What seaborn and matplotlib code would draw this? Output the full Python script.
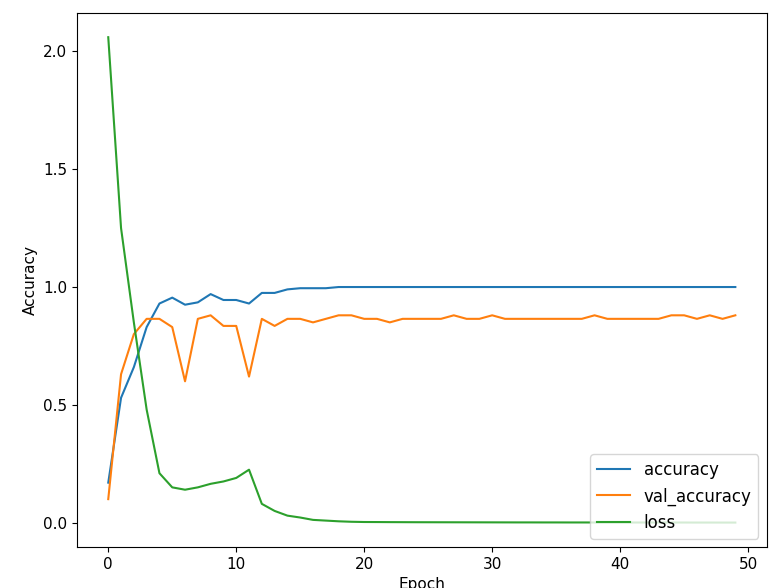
import matplotlib
matplotlib.use("Agg")
import matplotlib.pyplot as plt
import seaborn as sns
import pandas as pd
import numpy as np

accuracy = [0.17,0.53,0.66,0.83,0.93,0.955,0.925,0.935,0.97,0.945,0.945,0.93,0.975,0.975,0.99,0.995,0.995,0.995] + [1.0]*32
val_accuracy = [0.10,0.63,0.80,0.865,0.865,0.83,0.60,0.865,0.88,0.835,0.835,0.62,0.865,0.835,0.865,0.865,0.85,0.865,0.88,0.88,
                0.865,0.865,0.85,0.865,0.865,0.865,0.865,0.88,0.865,0.865,0.88,0.865,0.865,0.865,0.865,0.865,0.865,0.865,0.88,0.865,
                0.865,0.865,0.865,0.865,0.88,0.88,0.865,0.88,0.865,0.88]
loss = [2.06,1.25,0.85,0.48,0.21,0.15,0.14,0.15,0.165,0.175,0.19,0.225,0.08,0.05,0.03,0.022,0.012,0.009,0.006,0.004,
        0.003,0.0028,0.0025,0.0023,0.0021,0.002,0.0019,0.0018,0.0017,0.0016,0.0015,0.0014,0.0013,0.0013,0.0012,0.0012,0.0011,0.0011,0.001,0.001,
        0.001,0.0009,0.0009,0.0008,0.0008,0.0008,0.0007,0.0007,0.0006,0.0006]
epochs = list(range(50))

df = pd.DataFrame({"Epoch": epochs, "accuracy": accuracy, "val_accuracy": val_accuracy, "loss": loss})
long = df.melt(id_vars="Epoch", var_name="metric", value_name="value")

fig, ax = plt.subplots(figsize=(7.69, 5.88), dpi=100)
sns.lineplot(data=long, x="Epoch", y="value", hue="metric", ax=ax,
             palette=["#1f77b4", "#ff7f0e", "#2ca02c"], linewidth=1.5)
ax.set_xlabel("Epoch", fontsize=11)
ax.set_ylabel("Accuracy", fontsize=11)
ax.tick_params(labelsize=11)
ax.legend(loc="lower right", title=None, fontsize=12)
fig.subplots_adjust(left=0.1, right=0.997, top=0.978, bottom=0.07)
fig.savefig("out.png")
